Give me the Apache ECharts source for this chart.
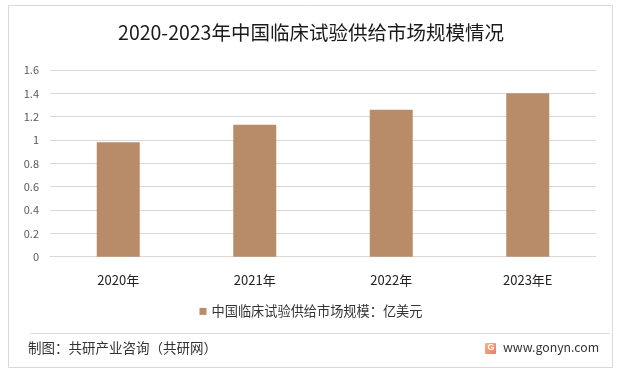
<!DOCTYPE html>
<html>
<head>
<meta charset="utf-8">
<script src="https://cdn.jsdelivr.net/npm/echarts@6/dist/echarts.min.js"></script>
<style>
html,body{margin:0;padding:0;background:#fff;}
#c{width:622px;height:375px;}
</style>
</head>
<body>
<div id="c"></div>
<script>
var categories = ['2020年', '2021年', '2022年', '2023年E'];
var marketSize = [0.98, 1.13, 1.26, 1.40];
var seriesName = '中国临床试验供给市场规模：亿美元';
var titleText = '2020-2023年中国临床试验供给市场规模情况';
var sourceText = '制图：共研产业咨询（共研网）';
var siteText = 'www.gonyn.com';

var FONT = '"Microsoft YaHei","Noto Sans CJK SC","Noto Sans",sans-serif';
var chart = echarts.init(document.getElementById('c'), null, {renderer: 'canvas'});
chart.setOption({
  backgroundColor: '#fff',
  animation: false,
  title: {
    text: titleText,
    left: 'center',
    top: 18,
    textStyle: {fontFamily: FONT, fontSize: 19.5, fontWeight: 'normal', color: '#1a1a1a'}
  },
  grid: {left: 50, right: 26, top: 70, bottom: 118.3},
  legend: {
    data: [seriesName],
    bottom: 52,
    left: 'center',
    icon: 'rect',
    itemWidth: 7,
    itemHeight: 7,
    itemGap: 4,
    textStyle: {fontFamily: FONT, fontSize: 13.2, color: '#333'}
  },
  xAxis: {
    type: 'category',
    data: categories,
    axisLine: {show: true, lineStyle: {color: '#d9d9d9'}},
    axisTick: {show: false},
    axisLabel: {fontFamily: FONT, fontSize: 13, color: '#222', margin: 17}
  },
  yAxis: {
    type: 'value',
    min: 0,
    max: 1.6,
    interval: 0.2,
    axisLine: {show: false},
    axisTick: {show: false},
    splitLine: {lineStyle: {color: '#d9d9d9'}},
    axisLabel: {
      fontFamily: FONT, fontSize: 11, color: '#595959', margin: 11,
      formatter: function (v) { return String(Math.round(v * 10) / 10); }
    }
  },
  series: [{
    name: seriesName,
    type: 'bar',
    data: marketSize,
    barWidth: '31.5%',
    itemStyle: {color: '#b98c69'}
  }],
  graphic: [
    {type: 'rect', shape: {x: 8.5, y: 5.5, width: 604, height: 362}, style: {fill: 'none', stroke: '#d9d9d9', lineWidth: 1}, silent: true},
    {type: 'line', shape: {x1: 30, y1: 333.5, x2: 610, y2: 333.5}, style: {stroke: '#dcdcdc', lineWidth: 1}},
    {type: 'text', left: 28, top: 341, style: {text: sourceText, font: '13.5px ' + FONT, fill: '#333'}},
    {type: 'rect', shape: {x: 485, y: 343, width: 11, height: 11, r: 1},
      style: {fill: new echarts.graphic.LinearGradient(0, 0, 1, 1, [{offset: 0, color: '#f7b77a'}, {offset: 1, color: '#ec7b6c'}])}},
    {type: 'text', left: 487.5, top: 343, style: {text: 'G', font: 'bold 9px sans-serif', fill: '#fff'}},
    {type: 'text', left: 503, top: 341.5, style: {text: siteText, font: '12.3px ' + FONT, fill: '#333'}}
  ]
});
</script>
</body>
</html>
